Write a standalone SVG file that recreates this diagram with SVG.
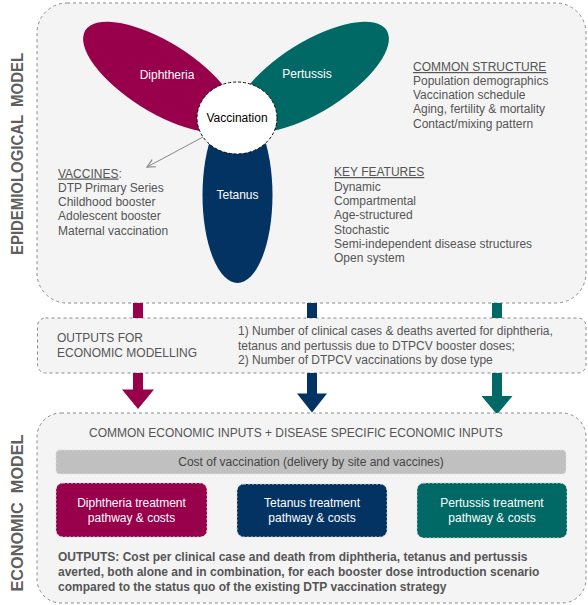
<svg xmlns="http://www.w3.org/2000/svg" width="588" height="605" viewBox="0 0 588 605">
  <defs>
    <style>
      text { font-family: "Liberation Sans", Arial, sans-serif; }
      .panel { fill: #f4f4f4; stroke: #8a8a8a; stroke-width: 1; stroke-dasharray: 3 3; }
      .side { font-size: 16px; font-weight: bold; fill: #5f5f5f; white-space: pre; }
      .body { font-size: 12px; fill: #555; }
      .lbl { font-size: 12px; fill: #fff; text-anchor: middle; }
      .ul { text-decoration: underline; }
      .bold { font-size: 12px; font-weight: bold; fill: #555; }
      .tbox { stroke: #d8d8d8; stroke-width: 1; stroke-dasharray: 2 2; }
      .dip { fill: #99004c; }
      .tet { fill: #033363; }
      .per { fill: #006965; }
    </style>
    <marker id="open-arrow" viewBox="0 0 10 10" refX="9" refY="5" markerWidth="10" markerHeight="10" markerUnits="userSpaceOnUse" orient="auto">
      <path d="M1,1 L9,5 L1,9" fill="none" stroke="#888" stroke-width="1.2"/>
    </marker>
  </defs>

  <!-- Epidemiological model panel -->
  <g id="epi-panel">
    <rect class="panel" x="37" y="3" width="549" height="300" rx="30" ry="30"/>
    <text class="side" xml:space="preserve" transform="translate(23,154) rotate(-90)" text-anchor="middle" textLength="202" lengthAdjust="spacingAndGlyphs">EPIDEMIOLOGICAL  MODEL</text>
  </g>

  <!-- Disease petals -->
  <g id="diphtheria">
    <ellipse class="dip" cx="160" cy="77" rx="88" ry="35" transform="rotate(32 160 77)"/>
    <text class="lbl" x="167" y="79">Diphtheria</text>
  </g>
  <g id="pertussis">
    <ellipse class="per" cx="312" cy="77" rx="88" ry="35" transform="rotate(-32 312 77)"/>
    <text class="lbl" x="307" y="78">Pertussis</text>
  </g>
  <g id="tetanus">
    <ellipse class="tet" cx="237.5" cy="195" rx="35" ry="88"/>
    <text class="lbl" x="237.5" y="199">Tetanus</text>
  </g>
  <g id="vaccination">
    <ellipse cx="237" cy="118" rx="40" ry="36" fill="#fff" stroke="#111" stroke-width="1" stroke-dasharray="3 2"/>
    <text x="237" y="122" font-size="12" fill="#000" text-anchor="middle">Vaccination</text>
  </g>

  <g id="vaccines">
    <text class="body" x="58" y="177.5"><tspan class="ul">VACCINES</tspan>:</text>
    <text class="body" x="58" y="192">DTP Primary Series</text>
    <text class="body" x="58" y="206">Childhood booster</text>
    <text class="body" x="58" y="220">Adolescent booster</text>
    <text class="body" x="58" y="234.5">Maternal vaccination</text>
  </g>

  <g id="common-structure">
    <text class="body ul" x="413" y="71">COMMON STRUCTURE</text>
    <text class="body" x="413" y="85">Population demographics</text>
    <text class="body" x="413" y="99">Vaccination schedule</text>
    <text class="body" x="413" y="113">Aging, fertility &amp; mortality</text>
    <text class="body" x="413" y="127.5">Contact/mixing pattern</text>
  </g>

  <g id="key-features">
    <text class="body ul" x="334" y="176">KEY FEATURES</text>
    <text class="body" x="334" y="191">Dynamic</text>
    <text class="body" x="334" y="205">Compartmental</text>
    <text class="body" x="334" y="219">Age-structured</text>
    <text class="body" x="334" y="233.5">Stochastic</text>
    <text class="body" x="334" y="247.5">Semi-independent disease structures</text>
    <text class="body" x="334" y="262">Open system</text>
  </g>

  <!-- Outputs for economic modelling -->
  <g id="outputs">
    <rect class="panel" x="37.5" y="318" width="548.5" height="55" rx="8" ry="8"/>
    <text class="body" x="57" y="342">OUTPUTS FOR</text>
    <text class="body" x="57" y="357">ECONOMIC MODELLING</text>
    <text class="body" x="238" y="335">1) Number of clinical cases &amp; deaths averted for diphtheria,</text>
    <text class="body" x="238" y="349.5">tetanus and pertussis due to DTPCV booster doses;</text>
    <text class="body" x="238" y="364">2) Number of DTPCV vaccinations by dose type</text>
  </g>

  <!-- Connectors -->
  <g id="connectors">
    <line x1="203" y1="137" x2="147" y2="167" stroke="#888" stroke-width="1" marker-end="url(#open-arrow)"/>
    <rect class="dip" x="133" y="303" width="10" height="15"/>
    <rect class="tet" x="307" y="303" width="10" height="15"/>
    <rect class="per" x="492" y="303" width="10" height="15"/>
    <path class="dip" d="M133,373 H143 V389.5 H154 L138,409 L122,389.5 H133 Z"/>
    <path class="tet" d="M307,373 H317 V393.5 H327 L312,412.5 L297,393.5 H307 Z"/>
    <path class="per" d="M492,373 H502 V396 H512.5 L497,414.5 L481.5,396 H492 Z"/>
  </g>

  <!-- Economic model panel -->
  <g id="econ-panel">
    <rect class="panel" x="37" y="413" width="549" height="190" rx="24" ry="24"/>
    <text class="side" xml:space="preserve" transform="translate(22.5,513) rotate(-90)" text-anchor="middle" textLength="157" lengthAdjust="spacingAndGlyphs">ECONOMIC  MODEL</text>
    <text class="body" x="89" y="437">COMMON ECONOMIC INPUTS + DISEASE SPECIFIC ECONOMIC INPUTS</text>
  </g>

  <g id="cost-vaccination">
    <rect x="56" y="450" width="510" height="24" rx="4" ry="4" fill="#c0c0c0" stroke="#dedede" stroke-width="1" stroke-dasharray="2 2"/>
    <text x="311" y="466" font-size="12" fill="#444" text-anchor="middle">Cost of vaccination (delivery by site and vaccines)</text>
  </g>

  <g id="diphtheria-costs">
    <rect class="dip tbox" x="56" y="483" width="151" height="54" rx="7" ry="7"/>
    <text class="lbl" x="131.5" y="506.5">Diphtheria treatment</text>
    <text class="lbl" x="131.5" y="521.5">pathway &amp; costs</text>
  </g>
  <g id="tetanus-costs">
    <rect class="tet tbox" x="237" y="484" width="150" height="53" rx="7" ry="7"/>
    <text class="lbl" x="312" y="507">Tetanus treatment</text>
    <text class="lbl" x="312" y="522">pathway &amp; costs</text>
  </g>
  <g id="pertussis-costs">
    <rect class="per tbox" x="417" y="483" width="150" height="55" rx="7" ry="7"/>
    <text class="lbl" x="492" y="507">Pertussis treatment</text>
    <text class="lbl" x="492" y="522">pathway &amp; costs</text>
  </g>

  <g id="econ-outputs">
    <text class="bold" x="58" y="561">OUTPUTS: Cost per clinical case and death from diphtheria, tetanus and pertussis</text>
    <text class="bold" x="58" y="576">averted, both alone and in combination, for each booster dose introduction scenario</text>
    <text class="bold" x="58" y="591">compared to the status quo of the existing DTP vaccination strategy</text>
  </g>
</svg>
